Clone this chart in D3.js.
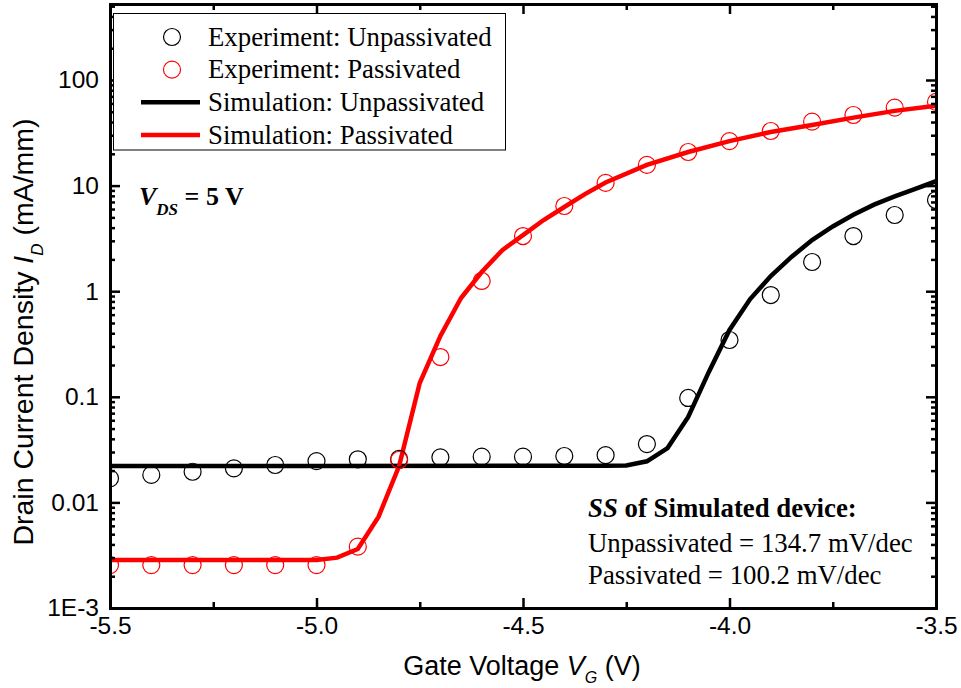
<!DOCTYPE html>
<html>
<head>
<meta charset="utf-8">
<script src="https://cdn.jsdelivr.net/npm/d3@7"></script>
<style>
  body { margin: 0; background: #fff; }
  .sans { font-family: "Liberation Sans", Arial, sans-serif; }
  .serif { font-family: "Liberation Serif", "Times New Roman", serif; }
</style>
</head>
<body>
<div id="chart"></div>
<script>
// measured points, every 0.1 V
const expVg = [-5.5, -5.4, -5.3, -5.2, -5.1, -5.0, -4.9, -4.8, -4.7, -4.6, -4.5,
  -4.4, -4.3, -4.2, -4.1, -4.0, -3.9, -3.8, -3.7, -3.6, -3.5];
const expUnpassivated = [0.0169, 0.0182, 0.0195, 0.0210, 0.0226, 0.0246, 0.0256, 0.0258,
  0.0267, 0.0271, 0.0271, 0.0275, 0.0280, 0.0357, 0.0975, 0.345, 0.92, 1.89, 3.33, 5.27, 7.3];
const expPassivated = [0.00255, 0.00255, 0.00255, 0.00255, 0.00255, 0.00255, 0.00381,
  0.0252, 0.238, 1.25, 3.33, 6.41, 10.6, 15.7, 20.8, 26.4, 32.9, 40.3, 46.6, 54.7, 62];

// simulated curves
const simUnpassVg = [-5.5, -5.0, -4.5, -4.3, -4.25, -4.2, -4.15, -4.1, -4.05, -4.0,
  -3.95, -3.9, -3.85, -3.8, -3.75, -3.7, -3.65, -3.6, -3.55, -3.5];
const simUnpassId = [0.0221, 0.0221, 0.0222, 0.0222, 0.0224, 0.0245, 0.0327, 0.0644, 0.172, 0.43,
  0.843, 1.39, 2.11, 3.05, 4.1, 5.3, 6.6, 7.9, 9.3, 11.0];
const simPassVg = [-5.5, -5.0, -4.95, -4.9, -4.85, -4.8, -4.75, -4.7, -4.65, -4.6, -4.55,
  -4.5, -4.45, -4.4, -4.35, -4.3, -4.2, -4.1, -4.0, -3.9, -3.8, -3.7, -3.6, -3.5];
const simPassId = [0.00285, 0.00285, 0.0030, 0.00362, 0.00728, 0.0221, 0.135, 0.377, 0.862, 1.52, 2.45,
  3.4, 4.72, 6.27, 8.3, 10.7, 15.7, 20.8, 26.4, 32.2, 37.5, 44, 51, 57];

const xTicks = [-5.5, -5.0, -4.5, -4.0, -3.5];
const xMinorTicks = [-5.25, -4.75, -4.25, -3.75];
const yTicks = [0.001, 0.01, 0.1, 1, 10, 100];
const yTickLabels = ["1E-3", "0.01", "0.1", "1", "10", "100"];

const legendLabels = [
  "Experiment: Unpassivated",
  "Experiment: Passivated",
  "Simulation: Unpassivated",
  "Simulation: Passivated",
];

const width = 961;
const height = 688;
const plotLeft = 110, plotRight = 936, plotTop = 4, plotBottom = 608;

const svg = d3
  .select("#chart")
  .append("svg")
  .attr("width", width)
  .attr("height", height);

const x = d3.scaleLinear().domain([-5.5, -3.5]).range([plotLeft, plotRight]);
const y = d3.scaleLog().domain([0.001, 524.5]).range([plotBottom, plotTop]);

const yMinor = [];
yTicks.forEach((t) => {
  for (let k = 2; k <= 9; k++) {
    const v = t * k;
    if (v < y.domain()[1]) yMinor.push(v);
  }
});

// clip to plot box
svg.append("clipPath").attr("id", "clip")
  .append("rect")
  .attr("x", plotLeft).attr("y", plotTop)
  .attr("width", plotRight - plotLeft).attr("height", plotBottom - plotTop);

const plot = svg.append("g").attr("clip-path", "url(#clip)");

const line = d3.line().x((d) => x(d[0])).y((d) => y(d[1]));

plot.append("path")
  .datum(d3.zip(simUnpassVg, simUnpassId))
  .attr("d", line)
  .attr("fill", "none")
  .attr("stroke", "#000")
  .attr("stroke-width", 4.5);

plot.append("path")
  .datum(d3.zip(simPassVg, simPassId))
  .attr("d", line)
  .attr("fill", "none")
  .attr("stroke", "#ff0000")
  .attr("stroke-width", 4.5);

plot.append("g")
  .selectAll("circle")
  .data(d3.zip(expVg, expUnpassivated))
  .enter()
  .append("circle")
  .attr("cx", (d) => x(d[0]))
  .attr("cy", (d) => y(d[1]))
  .attr("r", 8.5)
  .attr("fill", "none")
  .attr("stroke", "#000")
  .attr("stroke-width", 1.2);

plot.append("g")
  .selectAll("circle")
  .data(d3.zip(expVg, expPassivated))
  .enter()
  .append("circle")
  .attr("cx", (d) => x(d[0]))
  .attr("cy", (d) => y(d[1]))
  .attr("r", 8.5)
  .attr("fill", "none")
  .attr("stroke", "#ff0000")
  .attr("stroke-width", 1.2);

// axes, ticks pointing inward on all four sides
function styleAxis(g) {
  g.select(".domain").attr("stroke-width", 3);
  g.selectAll(".tick line").attr("stroke-width", 2.5);
  g.selectAll("text")
    .attr("class", "sans")
    .style("font-size", "24.5px")
    .attr("fill", "#000");
}

svg.append("g")
  .attr("transform", `translate(0,${plotBottom})`)
  .call(d3.axisBottom(x).tickValues(xMinorTicks).tickSize(-6).tickFormat(""))
  .call(styleAxis);
svg.append("g")
  .attr("transform", `translate(0,${plotBottom})`)
  .call(d3.axisBottom(x).tickValues(xTicks).tickSize(-10).tickPadding(9)
    .tickFormat((d) => d.toFixed(1)))
  .call(styleAxis);

svg.append("g")
  .attr("transform", `translate(0,${plotTop})`)
  .call(d3.axisTop(x).tickValues(xMinorTicks).tickSize(-6).tickFormat(""))
  .call(styleAxis);
svg.append("g")
  .attr("transform", `translate(0,${plotTop})`)
  .call(d3.axisTop(x).tickValues(xTicks).tickSize(-10).tickFormat(""))
  .call(styleAxis);

svg.append("g")
  .attr("transform", `translate(${plotLeft},0)`)
  .call(d3.axisLeft(y).tickValues(yMinor).tickSize(-5).tickFormat(""))
  .call(styleAxis);
svg.append("g")
  .attr("transform", `translate(${plotLeft},0)`)
  .call(d3.axisLeft(y).tickValues(yTicks).tickSize(-10).tickPadding(11)
    .tickFormat((d, i) => yTickLabels[i]))
  .call(styleAxis);

svg.append("g")
  .attr("transform", `translate(${plotRight},0)`)
  .call(d3.axisRight(y).tickValues(yMinor).tickSize(-5).tickFormat(""))
  .call(styleAxis);
svg.append("g")
  .attr("transform", `translate(${plotRight},0)`)
  .call(d3.axisRight(y).tickValues(yTicks).tickSize(-10).tickFormat(""))
  .call(styleAxis);

// axis titles
const xTitle = svg.append("text")
  .attr("class", "sans")
  .attr("x", 522)
  .attr("y", 675)
  .attr("text-anchor", "middle")
  .style("font-size", "27px");
xTitle.append("tspan").text("Gate Voltage ");
xTitle.append("tspan").style("font-style", "italic").text("V");
xTitle.append("tspan").attr("dy", 8).style("font-size", "16px").style("font-style", "italic").text("G");
xTitle.append("tspan").attr("dy", -8).text(" (V)");

const yTitle = svg.append("text")
  .attr("class", "sans")
  .attr("transform", "translate(33,332) rotate(-90)")
  .attr("text-anchor", "middle")
  .style("font-size", "28.5px");
yTitle.append("tspan").text("Drain Current Density ");
yTitle.append("tspan").style("font-style", "italic").text("I");
yTitle.append("tspan").attr("dy", 10).style("font-size", "17px").style("font-style", "italic").text("D");
yTitle.append("tspan").attr("dy", -10).text(" (mA/mm)");

// legend
const legend = svg.append("g").attr("class", "serif");
legend.append("rect")
  .attr("x", 113.5).attr("y", 13.5)
  .attr("width", 392).attr("height", 136.5)
  .attr("fill", "#fff")
  .attr("stroke", "#000")
  .attr("stroke-width", 1);

const legendY = d3.scalePoint().domain(legendLabels).range([37, 135]);
const legendColors = ["#000", "#ff0000", "#000", "#ff0000"];

legendLabels.forEach((label, i) => {
  const cy = legendY(label);
  if (i < 2) {
    legend.append("circle")
      .attr("cx", 172).attr("cy", cy).attr("r", 8.5)
      .attr("fill", "none")
      .attr("stroke", legendColors[i])
      .attr("stroke-width", 1.2);
  } else {
    legend.append("line")
      .attr("x1", 141).attr("x2", 200)
      .attr("y1", cy).attr("y2", cy)
      .attr("stroke", legendColors[i])
      .attr("stroke-width", 4.5);
  }
  legend.append("text")
    .attr("x", 208)
    .attr("y", cy + 8.5)
    .style("font-size", "26.8px")
    .text(label);
});

// annotations
const vds = svg.append("text")
  .attr("class", "serif")
  .attr("x", 139)
  .attr("y", 205)
  .style("font-size", "26px")
  .style("font-weight", "bold");
vds.append("tspan").style("font-style", "italic").text("V");
vds.append("tspan").attr("dy", 10).style("font-style", "italic").style("font-size", "17px").text("DS");
vds.append("tspan").attr("dy", -10).text(" = 5 V");

const ss = svg.append("g").attr("class", "serif").style("font-size", "26.8px");
const ssTitle = ss.append("text").attr("x", 588).attr("y", 517).style("font-weight", "bold");
ssTitle.append("tspan").style("font-style", "italic").text("SS");
ssTitle.append("tspan").text(" of Simulated device:");
ss.append("text").attr("x", 588).attr("y", 552).text("Unpassivated = 134.7 mV/dec");
ss.append("text").attr("x", 588).attr("y", 584).text("Passivated = 100.2 mV/dec");
</script>
</body>
</html>
